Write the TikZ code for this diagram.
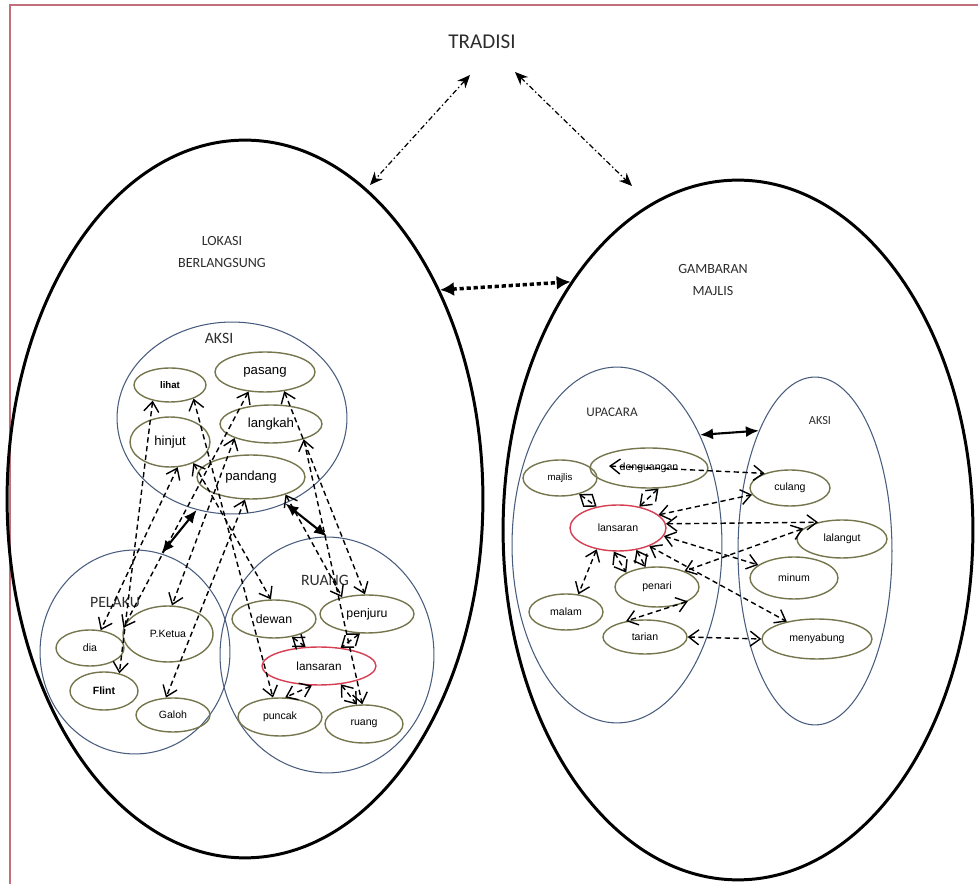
\documentclass[tikz,border=0pt]{standalone}
\usepackage{fontspec}
\setmainfont{Liberation Sans}
\newfontfamily\headfam{Carlito}
\usetikzlibrary{arrows.meta,shapes.geometric}

\definecolor{itemolive}{RGB}{118,118,78}
\definecolor{zoneblue}{RGB}{72,92,125}
\definecolor{keyred}{RGB}{214,62,82}
\definecolor{pagered}{RGB}{192,112,122}
\definecolor{headgray}{RGB}{45,45,45}

\tikzset{
  world/.style 2 args={ellipse, draw, line width=1.7pt, minimum width=#1*0.04cm, minimum height=#2*0.04cm, inner sep=0pt},
  zone/.style 2 args={ellipse, draw=zoneblue, line width=0.6pt, minimum width=#1*0.04cm, minimum height=#2*0.04cm, inner sep=0pt},
  item/.style 2 args={ellipse, draw=itemolive, line width=0.8pt, minimum width=#1*0.04cm, minimum height=#2*0.04cm, inner sep=0pt, font=\fontsize{6}{7}\selectfont},
  bigitem/.style={font=\fontsize{7.5}{9}\selectfont},
  head/.style={font=\headfam\fontsize{9}{10}\selectfont, text=headgray},
  title/.style={font=\headfam\fontsize{8}{13}\selectfont, text=headgray, align=center},
  link/.style={dash pattern=on 3pt off 2pt, line width=0.8pt, {Straight Barb[length=2mm,width=3mm]}-{Straight Barb[length=2mm,width=3mm]}},
  bond/.style={line width=1.2pt, {Latex[length=2.6mm,width=2.2mm]}-{Latex[length=2.6mm,width=2.2mm]}},
  tie/.style={line width=0.7pt, dash pattern=on 3pt off 1.5pt on 0.8pt off 1.5pt, {Stealth[length=2.6mm,width=2.2mm]}-{Stealth[length=2.6mm,width=2.2mm]}},
  pull/.style={line width=2pt, dash pattern=on 2.4pt off 1.6pt, {Latex[length=2.8mm,width=2.8mm]}-{Latex[length=2.8mm,width=2.8mm]}},
}

\begin{document}
\begin{tikzpicture}[x=0.02cm, y=-0.02cm]
\useasboundingbox (0,0) rectangle (978,884);
\draw[pagered, line width=1pt] (10,884) -- (10,5) -- (978,5);

% the two worlds and the tradition above them
\node[world={238}{359}] (lokasi) at (245,499) {};
\node[world={235}{350}] (gambaran) at (738,530) {};
\node[head, font=\headfam\fontsize{12}{14}\selectfont] (tradisi) at (482,42) {TRADISI};
\coordinate (tl) at (370,185);
\coordinate (tr) at (632,186);
\draw[tie] ([shift={(-12,33)}]tradisi.center) -- (tl);
\draw[tie] ([shift={(33,30)}]tradisi.center) -- (tr);
\draw[pull] (lokasi.47.8) -- (gambaran.124.8);
\node[title] (lokasit) at (222,252) {LOKASI\\BERLANGSUNG};
\node[title] (gambarant) at (713,280) {GAMBARAN\\MAJLIS};

% zones
\node[zone={115}{96}] (zaksi) at (232,418) {};
\node[zone={95}{102}] (zpelaku) at (135,652) {};
\node[zone={107}{118}] (zruang) at (327,655) {};
\node[zone={105}{178}] (zupacara) at (617,545) {};
\node[zone={77}{174}] (zaksi2) at (815,551) {};
\node[head] (zaksit) at (219,338) {AKSI};
\node[head] (zpelakut) at (115,602) {PELAKU};
\node[head] (zruangt) at (325,580) {RUANG};
\node[head, font=\headfam\fontsize{7.5}{9}\selectfont] (zupacarat) at (612,412) {UPACARA};
\node[head, font=\headfam\fontsize{7}{9}\selectfont] (zaksi2t) at (820,421) {AKSI};
\draw[bond] (zaksi.-111) -- (zpelaku.75);
\draw[bond] (zaksi.-58.6) -- (zruang.90);
\draw[bond] (zupacara.53.8) -- (zaksi2.115.8);

% left items
\node[item={36}{17}, font=\bfseries\fontsize{5.5}{7}\selectfont] (lihat) at (170,385) {lihat};
\node[item={50}{20}, bigitem] (pasang) at (265,372) {pasang};
\node[item={51}{19}, bigitem] (langkah) at (271,424) {langkah};
\node[item={40}{25}, bigitem] (hinjut) at (170,442) {hinjut};
\node[item={54}{22}, bigitem] (pandang) at (251,477) {pandang};
\node[item={34}{18}] (dia) at (90,648) {dia};
\node[item={45}{28}] (ketua) at (168,634) {P.Ketua};
\node[item={34}{19}, font=\bfseries\fontsize{6}{7}\selectfont] (flint) at (104,691) {Flint};
\node[item={37}{17}] (galoh) at (173,715) {Galoh};
\node[item={42}{19}, font=\fontsize{7}{8}\selectfont] (dewan) at (274,619) {dewan};
\node[item={47}{19}, font=\fontsize{7}{8}\selectfont] (penjuru) at (367,614) {penjuru};
\node[item={57}{19}, draw=keyred, font=\fontsize{6.7}{8}\selectfont] (lansaran) at (319,666) {lansaran};
\node[item={42}{19}] (puncak) at (280,717) {puncak};
\node[item={39}{19}] (ruang) at (364,724) {ruang};

\draw[link] (lihat.-138) -- (flint.49);
\draw[link] (lihat.-30) -- (puncak.110);
\draw[link] (hinjut.-73) -- (dia.59);
\draw[link] (hinjut.-42) -- (dewan.99);
\draw[link] (pasang.-130) -- (ketua.172);
\draw[link] (langkah.-159) -- (ketua.82);
\draw[link] (pandang.-105) -- (galoh.112);
\draw[link] (pasang.-45) -- (penjuru.96);
\draw[link] (pandang.-27) -- (penjuru.146);
\draw[link] (langkah.-25) -- (ruang.95);
\draw[link] (dewan.-45) -- (lansaran.125);
\draw[link] (penjuru.-110) -- (lansaran.40);
\draw[link] (lansaran.-110) -- (puncak.75);
\draw[link] (lansaran.-40) -- (ruang.110);

% right items
\node[item={59}{20}] (denguangan) at (649,468) {denguangan};
\node[item={37}{18}, font=\fontsize{5.5}{7}\selectfont] (majlis) at (560,478) {majlis};
\node[item={48}{23}, draw=keyred] (lansaran2) at (618,528) {lansaran};
\node[item={42}{20}] (penari) at (657,587) {penari};
\node[item={37}{18}] (malam) at (566,612) {malam};
\node[item={42}{17}] (tarian) at (645,637) {tarian};
\node[item={40}{18}] (culang) at (790,488) {culang};
\node[item={45}{19}] (lalangut) at (842,539) {lalangut};
\node[item={44}{21}] (minum) at (794,578) {minum};
\node[item={55}{20}] (menyabung) at (817,639) {menyabung};

\draw[link] ([shift={(-40,-2)}]denguangan.center) -- (culang.150);
\draw[link] (lansaran2.18) -- (culang.190);
\draw[link] (lansaran2.5) -- (lalangut.145);
\draw[link] (lansaran2.-10) -- (minum.160);
\draw[link] (lansaran2.-30) -- (menyabung.150);
\draw[link] (lalangut.165) -- (penari.30);
\draw[link] (penari.-25) -- (tarian.140);
\draw[link] (tarian.east) -- (menyabung.west);
\draw[link] (majlis.-40) -- (lansaran2.135);
\draw[link] (lansaran2.45) -- (denguangan.-65);
\draw[link] (lansaran2.-50) -- (penari.120);
\draw[link] (lansaran2.-100) -- (penari.155);
\draw[link] (lansaran2.-135) -- (malam.55);
\end{tikzpicture}
\end{document}
